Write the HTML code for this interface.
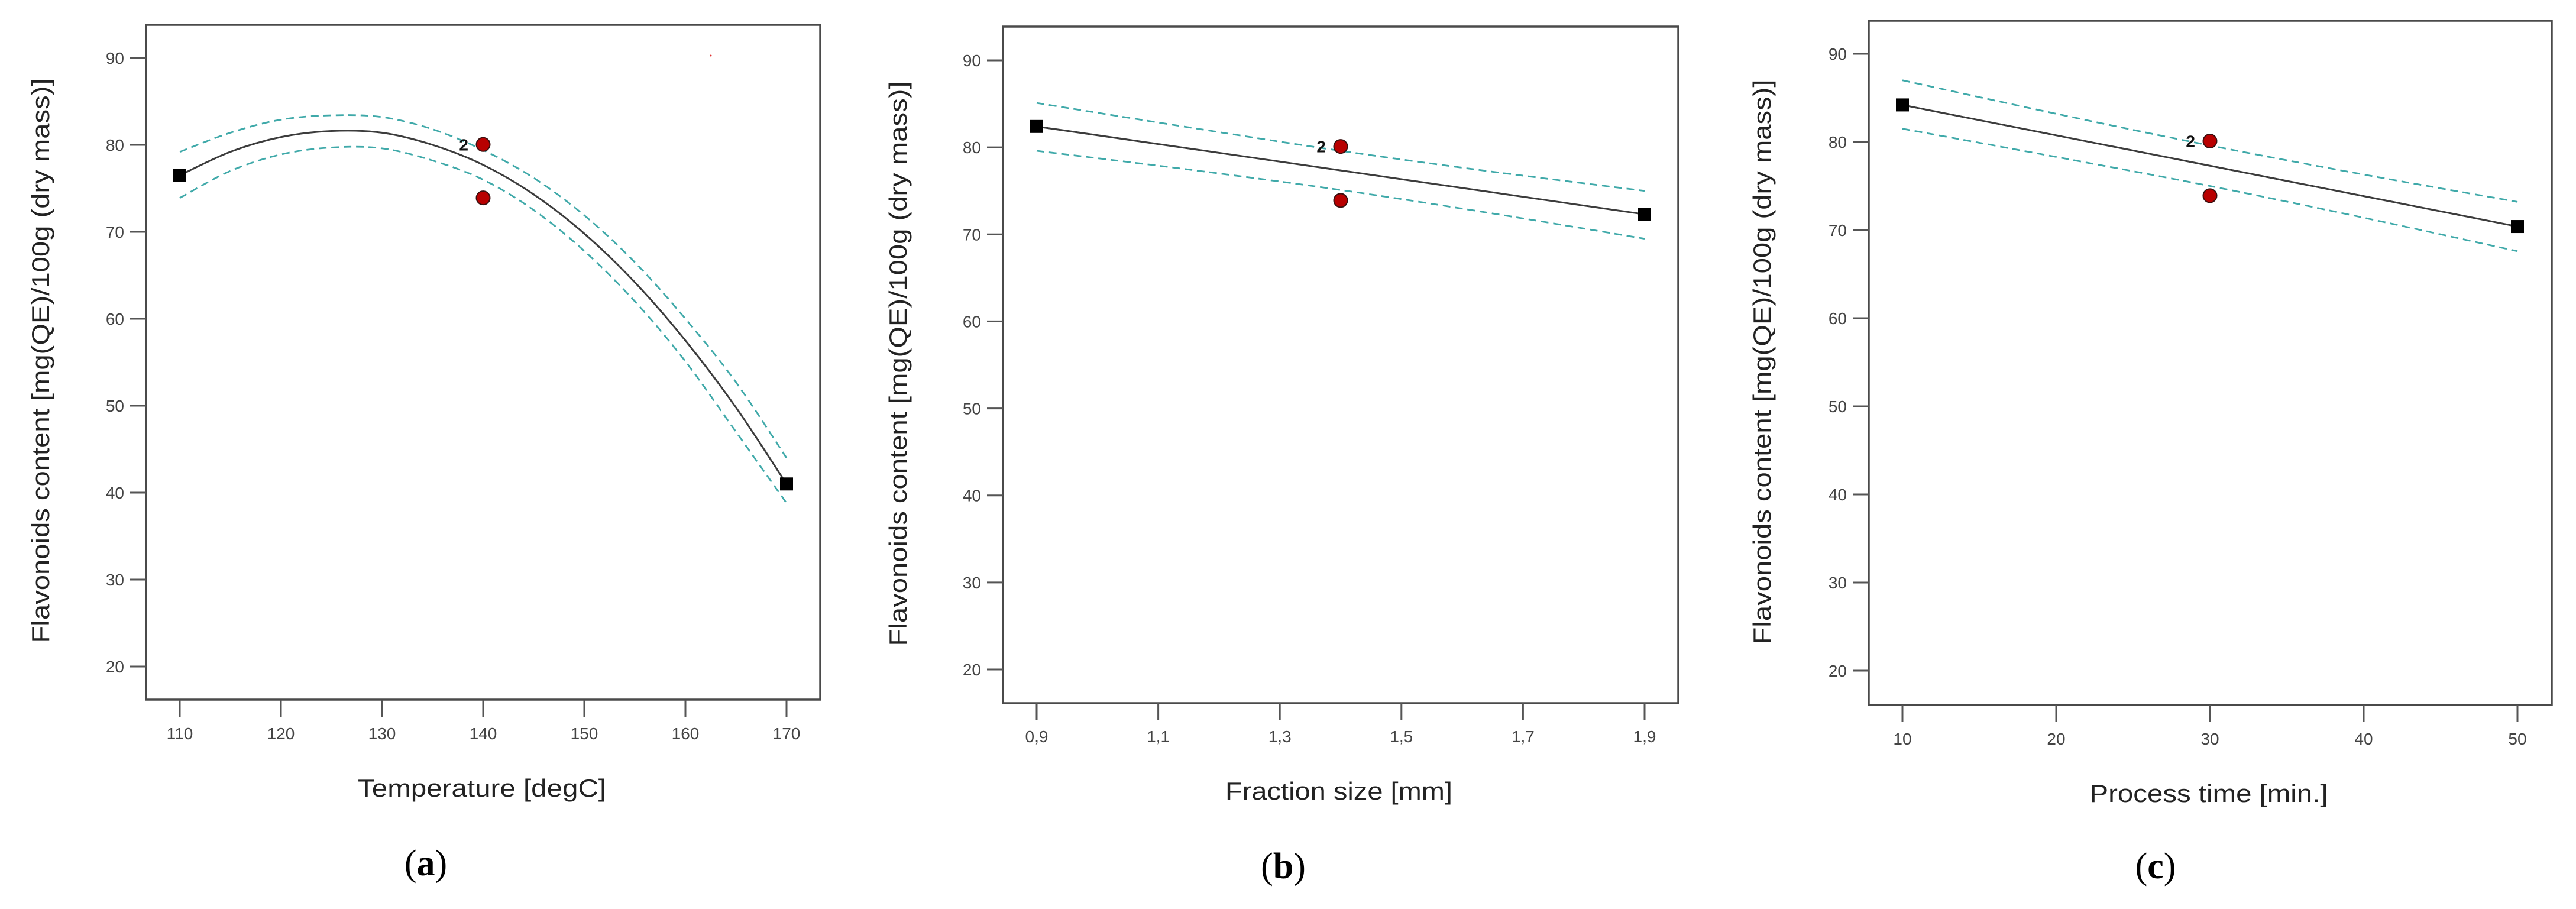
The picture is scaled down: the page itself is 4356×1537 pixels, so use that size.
<!DOCTYPE html>
<html><head><meta charset="utf-8"><style>
html,body{margin:0;padding:0;background:#fff;}
svg{display:block;}
text{font-family:"Liberation Sans","DejaVu Sans",sans-serif;}
</style></head><body>
<svg id="fig" width="4356" height="1537" viewBox="0 0 4356 1537" xmlns="http://www.w3.org/2000/svg">
<rect width="4356" height="1537" fill="#fff"/>
<circle cx="1202" cy="94" r="1.5" fill="#e03030"/>
</svg>
<script>
// ---- Panel (a) Temperature ----
const aX = [110,115,120,125,130,135,140,145,150,155,160,165,170];
const aCenter = [76.5,79.2,80.9,81.6,81.4,80.0,77.7,74.3,69.8,64.2,57.5,49.8,41.0];
const aUpper = [79.2,81.4,82.9,83.4,83.2,81.8,79.4,76.2,71.9,66.5,60.0,52.7,44.0];
const aLower = [73.9,77.0,78.9,79.7,79.6,78.2,76.0,72.5,67.8,62.0,55.1,47.0,38.8];
const aEndX = [110,170];
const aEndY = [76.5,41.0];
const aObsX = [140,140];
const aObsY = [80.05,73.9];
const aTicks = [110,120,130,140,150,160,170];
const aTickLabels = ["110","120","130","140","150","160","170"];
// ---- Panel (b) Fraction size ----
const bX = [0.9,1.15,1.4,1.65,1.9];
const bCenter = [82.4,79.875,77.35,74.825,72.3];
const bUpper = [85.1,82.3,79.6,77.2,75.0];
const bLower = [79.6,77.45,75.1,72.4,69.5];
const bEndX = [0.9,1.9];
const bEndY = [82.4,72.3];
const bObsX = [1.4,1.4];
const bObsY = [80.1,73.9];
const bTicks = [0.9,1.1,1.3,1.5,1.7,1.9];
const bTickLabels = ["0,9","1,1","1,3","1,5","1,7","1,9"];
// ---- Panel (c) Process time ----
const cX = [10,20,30,40,50];
const cCenter = [84.2,80.75,77.3,73.85,70.4];
const cUpper = [87.0,83.2,79.6,76.3,73.2];
const cLower = [81.5,78.3,75.0,71.4,67.6];
const cEndX = [10,50];
const cEndY = [84.2,70.4];
const cObsX = [30,30];
const cObsY = [80.1,73.9];
const cTicks = [10,20,30,40,50];
const cTickLabels = ["10","20","30","40","50"];
// shared y ticks
const yTicks = [20,30,40,50,60,70,80,90];

const NS = "http://www.w3.org/2000/svg";
const svg = document.getElementById("fig");
function mk(tag, attrs, parent){
  const e = document.createElementNS(NS, tag);
  for (const k in attrs) e.setAttribute(k, attrs[k]);
  (parent||svg).appendChild(e);
  return e;
}
function smooth(pts){
  if (pts.length === 2) return "M"+pts[0][0]+","+pts[0][1]+"L"+pts[1][0]+","+pts[1][1];
  let d = "M"+pts[0][0]+","+pts[0][1];
  for (let i=0;i<pts.length-1;i++){
    const p0=pts[Math.max(0,i-1)], p1=pts[i], p2=pts[i+1], p3=pts[Math.min(pts.length-1,i+2)];
    const c1x=p1[0]+(p2[0]-p0[0])/6, c1y=p1[1]+(p2[1]-p0[1])/6;
    const c2x=p2[0]-(p3[0]-p1[0])/6, c2y=p2[1]-(p3[1]-p1[1])/6;
    d += "C"+c1x+","+c1y+" "+c2x+","+c2y+" "+p2[0]+","+p2[1];
  }
  return d;
}
function panel(cfg){
  const g = mk("g", {});
  
  
  const sx = v => cfg.x0 + (v - cfg.xmin) / (cfg.xmax - cfg.xmin) * (cfg.x1 - cfg.x0);
  const sy = v => cfg.y90 + (90 - v) / 70 * (cfg.y20 - cfg.y90);
  // frame
  const fr = mk("rect", {x:cfg.L, y:cfg.T, width:cfg.R-cfg.L, height:cfg.B-cfg.T, fill:"none", stroke:"#4a4a4a", "stroke-width":3.5}, g);
  
  
  // y ticks
  yTicks.forEach(v => {
    const y = sy(v);
    const t = mk("line", {x1:cfg.L-27, x2:cfg.L, y1:y, y2:y, stroke:"#555", "stroke-width":3}, g);
    
    
    const lb = mk("text", {x:cfg.L-37, y:y+10, "font-size":28, fill:"#444", "text-anchor":"end"}, g);
    lb.textContent = String(v);
    
    
  });
  // x ticks
  cfg.ticks.forEach((v,i) => {
    const x = sx(v);
    const t = mk("line", {x1:x, x2:x, y1:cfg.B, y2:cfg.B+29, stroke:"#555", "stroke-width":3}, g);
    
    
    const lb = mk("text", {x:x, y:cfg.tickY+10, "font-size":28, fill:"#444", "text-anchor":"middle"}, g);
    lb.textContent = cfg.tickLabels[i];
    
    
  });
  // CI bands
  const up = mk("path", {d:smooth(cfg.xs.map((v,i)=>[sx(v), sy(cfg.upper[i])])), fill:"none", stroke:"#3fa9a9", "stroke-width":2.8, "stroke-dasharray":"13 8"}, g);
  
  
  const lo = mk("path", {d:smooth(cfg.xs.map((v,i)=>[sx(v), sy(cfg.lower[i])])), fill:"none", stroke:"#3fa9a9", "stroke-width":2.8, "stroke-dasharray":"13 8"}, g);
  
  
  const ce = mk("path", {d:smooth(cfg.xs.map((v,i)=>[sx(v), sy(cfg.center[i])])), fill:"none", stroke:"#3c3c3c", "stroke-width":3}, g);
  
  
  // end squares
  cfg.endX.forEach((v,i) => {
    const s = mk("rect", {x:sx(v)-11, y:sy(cfg.endY[i])-11, width:22, height:22, fill:"#000"}, g);
    
    
  });
  // observed points
  cfg.obsX.forEach((v,i) => {
    const c = mk("circle", {cx:sx(v), cy:sy(cfg.obsY[i]), r:11.5, fill:"#b80000", stroke:"#3a1010", "stroke-width":2}, g);
    
    
  });
  const two = mk("text", {x:sx(cfg.obsX[0])-25, y:sy(cfg.obsY[0])+10, "font-size":28, "font-weight":"bold", fill:"#111", "text-anchor":"end"}, g);
  two.textContent = "2";
  
  
  // y title
  const yt = mk("text", {x:0, y:0, "font-size":42, fill:"#222", "text-anchor":"middle", textLength:955, lengthAdjust:"spacingAndGlyphs", transform:"translate("+(cfg.ytX+14)+","+cfg.ytY+") rotate(-90)"}, g);
  yt.textContent = "Flavonoids content [mg(QE)/100g (dry mass)]";
  
  
  // x title
  const xt = mk("text", {x:cfg.xtX, y:cfg.xtY+14, "font-size":42, fill:"#222", "text-anchor":"middle", textLength:cfg.xtW, lengthAdjust:"spacingAndGlyphs"}, g);
  xt.textContent = cfg.xTitle;
  
  
  // panel letter
  const pl = mk("text", {x:cfg.lbX, y:cfg.lbY+20, "font-size":62, fill:"#000", "text-anchor":"middle", style:"font-family:'Liberation Serif',serif"}, g);
  pl.innerHTML = '(<tspan font-weight="bold">'+cfg.id+'</tspan>)';
  
  
}
panel({id:"a", L:247, R:1387, T:42, B:1183, x0:304, x1:1330, xmin:110, xmax:170, y90:98, y20:1127,
  xs:aX, center:aCenter, upper:aUpper, lower:aLower, endX:aEndX, endY:aEndY, obsX:aObsX, obsY:aObsY,
  ticks:aTicks, tickLabels:aTickLabels, tickY:1240, ytX:69, ytY:610, xtX:815, xtY:1333, xtW:420,
  xTitle:"Temperature [degC]", lbX:720, lbY:1460});
panel({id:"b", L:1696, R:2838, T:45, B:1189, x0:1753, x1:2781, xmin:0.9, xmax:1.9, y90:102, y20:1132,
  xs:bX, center:bCenter, upper:bUpper, lower:bLower, endX:bEndX, endY:bEndY, obsX:bObsX, obsY:bObsY,
  ticks:bTicks, tickLabels:bTickLabels, tickY:1245, ytX:1519, ytY:615, xtX:2264, xtY:1338, xtW:384,
  xTitle:"Fraction size [mm]", lbX:2170, lbY:1465});
panel({id:"c", L:3160, R:4315, T:35, B:1192, x0:3217, x1:4257, xmin:10, xmax:50, y90:91, y20:1134,
  xs:cX, center:cCenter, upper:cUpper, lower:cLower, endX:cEndX, endY:cEndY, obsX:cObsX, obsY:cObsY,
  ticks:cTicks, tickLabels:cTickLabels, tickY:1249, ytX:2980, ytY:612, xtX:3735, xtY:1342, xtW:403,
  xTitle:"Process time [min.]", lbX:3645, lbY:1465});
</script>
</body></html>
